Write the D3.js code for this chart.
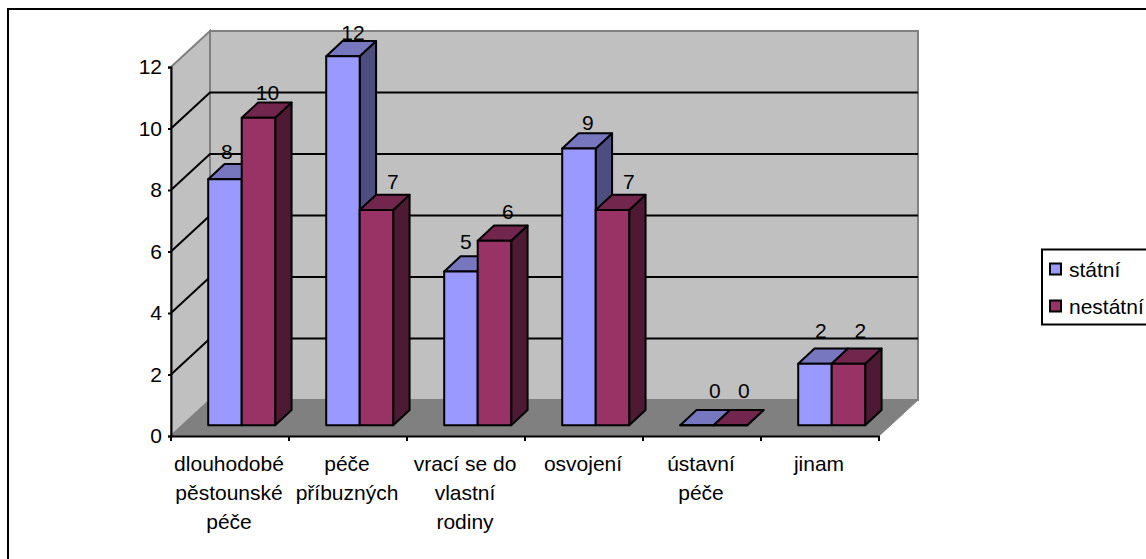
<!DOCTYPE html>
<html>
<head>
<meta charset="utf-8">
<script src="https://cdn.jsdelivr.net/npm/d3@7"></script>
<style>
  html, body { margin: 0; padding: 0; background: #fff; overflow: hidden; }
  text { font-family: "Liberation Sans", Arial, sans-serif; font-size: 21px; fill: #000; }
</style>
</head>
<body>
<div id="chart"></div>
<script>
// Data
const categories = ["dlouhodobé pěstounské péče", "péče příbuzných", "vrací se do vlastní rodiny", "osvojení", "ústavní péče", "jinam"];
const categoryLines = [["dlouhodobé", "pěstounské", "péče"], ["péče", "příbuzných"], ["vrací se do", "vlastní", "rodiny"], ["osvojení"], ["ústavní", "péče"], ["jinam"]];
const seriesNames = ["státní", "nestátní"];
const statni = [8, 12, 5, 9, 0, 2];
const nestatni = [10, 7, 6, 7, 0, 2];
const yTicks = [0, 2, 4, 6, 8, 10, 12];

const WIDTH = 1146;
const HEIGHT = 559;

// Plot box: front edge of the floor, and how far the back wall is shifted
const plot = { left: 171, right: 879, bottom: 436, top: 67 };
const depth = { dx: 39, dy: -36 };
const barNear = 0.3; // bar front face, share of the depth
const barFar = 0.72; // bar back face

// the original places value labels a bit unevenly, px right of the bar centre
const labelShift = { "státní": [2, 10, 5, 9, 18, 6], "nestátní": [9, 16.5, 13.5, 16.5, 13.5, 12] };

const colors = {
  "státní": { front: "#9999ff", top: "#7777c0", side: "#4d4d80" },
  "nestátní": { front: "#993366", top: "#73264d", side: "#4d1933" }
};

const svg = d3.select("#chart").append("svg")
  .attr("width", WIDTH)
  .attr("height", HEIGHT)
  .style("display", "block");

const poly = (pts) => "M" + pts.map((p) => p.join(",")).join("L") + "Z";
const line = d3.line();

// Outer frame, cut off at the bottom and right in the picture
svg.append("path")
  .attr("d", line([[8, HEIGHT], [8, 9], [WIDTH, 9]]))
  .attr("fill", "none").attr("stroke", "#000").attr("stroke-width", 2);

const xScale = d3.scaleBand().domain(categories).range([plot.left, plot.right]);
const xInner = d3.scaleBand().domain(seriesNames).range([25.5, 92.5]);
const yScale = d3.scaleLinear().domain([0, 12]).range([plot.bottom, plot.top]);
const labelY = d3.scaleLinear().domain([0, 12]).range([398, 40]);

// ---- Walls and floor ----
const x0 = plot.left, x1 = plot.right, yb = plot.bottom, yt = plot.top;
const { dx, dy } = depth;

svg.append("path")
  .attr("d", poly([[x0 + dx, yb + dy], [x1 + dx, yb + dy], [x1 + dx, yt + dy], [x0 + dx, yt + dy]]))
  .attr("fill", "#c0c0c0").attr("stroke", "#808080").attr("stroke-width", 2);
svg.append("path")
  .attr("d", poly([[x0, yb], [x0 + dx, yb + dy], [x0 + dx, yt + dy], [x0, yt]]))
  .attr("fill", "#c0c0c0").attr("stroke", "#808080").attr("stroke-width", 2);
svg.append("path")
  .attr("d", poly([[x0, yb], [x1, yb], [x1 + dx, yb + dy], [x0 + dx, yb + dy]]))
  .attr("fill", "#808080").attr("stroke", "#808080").attr("stroke-width", 1);

// Gridlines along side wall and back wall
const grid = svg.append("g").attr("fill", "none").attr("stroke", "#000").attr("stroke-width", 2);
yTicks.filter((t) => t > 0 && t < 12).forEach((t) => {
  grid.append("path").attr("d", line([[x0, yScale(t)], [x0 + dx, yScale(t) + dy], [x1 + dx, yScale(t) + dy]]));
});

// ---- Axes ----
const yAxis = svg.append("g")
  .attr("transform", `translate(${plot.left},0)`)
  .call(d3.axisLeft(yScale).tickValues(yTicks).tickSize(3).tickPadding(6));
yAxis.selectAll("path, line").attr("stroke", "#000").attr("stroke-width", 2);

const xAxis = svg.append("g")
  .attr("transform", `translate(0,${plot.bottom})`)
  .call(d3.axisBottom(xScale).tickValues([]).tickSizeOuter(0));
xAxis.select("path").attr("stroke", "#000").attr("stroke-width", 2);

// Category separators
svg.append("g").selectAll("line")
  .data(categories.concat(["end"]))
  .join("line")
  .attr("x1", (d, i) => (i < categories.length ? xScale(d) : plot.right))
  .attr("x2", (d, i) => (i < categories.length ? xScale(d) : plot.right))
  .attr("y1", plot.bottom)
  .attr("y2", plot.bottom + 5)
  .attr("stroke", "#000").attr("stroke-width", 2);

// Category labels, wrapped on their own lines
const labels = svg.append("g").selectAll("text")
  .data(categories)
  .join("text")
  .attr("text-anchor", "middle")
  .attr("y", 471);
labels.selectAll("tspan")
  .data((d, i) => categoryLines[i].map((s) => ({ s, cat: d })))
  .join("tspan")
  .attr("x", (d) => xScale(d.cat) + xScale.bandwidth() / 2 - 1)
  .attr("dy", (d, i) => (i === 0 ? 0 : 29))
  .text((d) => d.s);

// ---- Bars ----
const rows = categories.map((c, i) => [
  { cat: c, i, name: seriesNames[0], value: statni[i] },
  { cat: c, i, name: seriesNames[1], value: nestatni[i] }
]);

const barG = svg.append("g").selectAll("g")
  .data(rows.flat())
  .join("g");

barG.each(function (d) {
  const g = d3.select(this);
  const c = colors[d.name];
  const left = xScale(d.cat) + xInner(d.name);
  const w = xInner.bandwidth();
  const base = yScale(0);
  const top = yScale(d.value);
  const fx = (x, z) => x + dx * z;
  const fy = (y, z) => y + dy * z;
  const face = (pts, fill) => g.append("path")
    .attr("d", poly(pts))
    .attr("fill", fill).attr("stroke", "#000").attr("stroke-width", 2).attr("stroke-linejoin", "round");

  face([
    [fx(left + w, barNear), fy(base, barNear)], [fx(left + w, barFar), fy(base, barFar)],
    [fx(left + w, barFar), fy(top, barFar)], [fx(left + w, barNear), fy(top, barNear)]], c.side);
  face([
    [fx(left, barNear), fy(top, barNear)], [fx(left + w, barNear), fy(top, barNear)],
    [fx(left + w, barFar), fy(top, barFar)], [fx(left, barFar), fy(top, barFar)]], c.top);
  face([
    [fx(left, barNear), fy(base, barNear)], [fx(left + w, barNear), fy(base, barNear)],
    [fx(left + w, barNear), fy(top, barNear)], [fx(left, barNear), fy(top, barNear)]], c.front);
});

// Value labels
svg.append("g").selectAll("text")
  .data(rows.flat())
  .join("text")
  .attr("text-anchor", "middle")
  .attr("x", (d) => xScale(d.cat) + xInner(d.name) + xInner.bandwidth() / 2 + dx * barNear + labelShift[d.name][d.i])
  .attr("y", (d) => labelY(d.value))
  .text((d) => d.value);

// ---- Legend ----
const legend = svg.append("g");
legend.append("rect")
  .attr("x", 1042).attr("y", 249.5)
  .attr("width", 130).attr("height", 75)
  .attr("fill", "#fff").attr("stroke", "#000").attr("stroke-width", 2);
const legendRow = d3.scalePoint().domain(seriesNames).range([269, 306]);
legend.selectAll("rect.key")
  .data(seriesNames)
  .join("rect")
  .attr("class", "key")
  .attr("x", 1050)
  .attr("y", (d) => legendRow(d) - 5.5)
  .attr("width", 11).attr("height", 11)
  .attr("fill", (d) => colors[d].front)
  .attr("stroke", "#000").attr("stroke-width", 2);
legend.selectAll("text")
  .data(seriesNames)
  .join("text")
  .attr("x", 1069)
  .attr("y", (d) => legendRow(d) + 8)
  .text((d) => d);
</script>
</body>
</html>
